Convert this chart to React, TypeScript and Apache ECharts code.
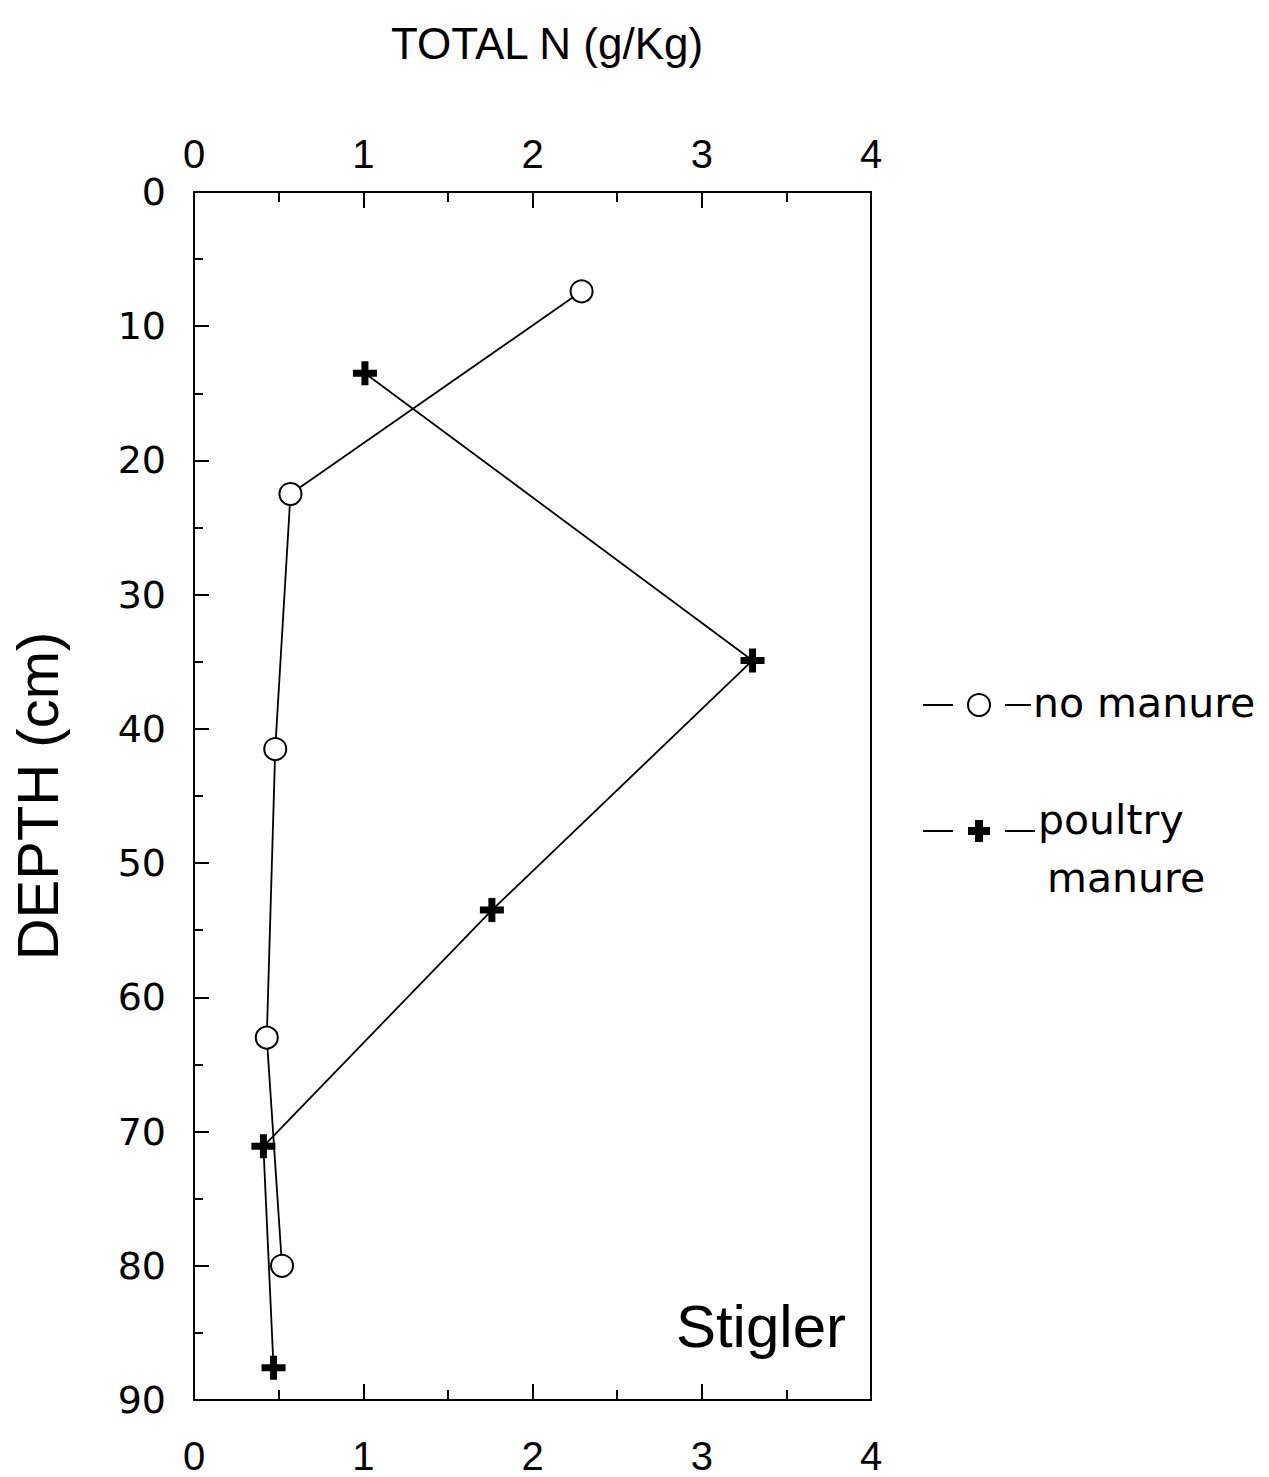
import React, { useEffect, useRef } from "react";
import * as echarts from "echarts";

const xTicks = [0, 1, 2, 3, 4];
const yTicks = [0, 10, 20, 30, 40, 50, 60, 70, 80, 90];

const noManureN = [2.29, 0.57, 0.48, 0.43, 0.52];
const noManureDepth = [7.4, 22.5, 41.5, 63.0, 80.0];

const poultryN = [1.01, 3.3, 1.76, 0.41, 0.47];
const poultryDepth = [13.5, 34.9, 53.5, 71.1, 87.6];

const seriesNames = ["no manure", "poultry manure"];

const PLUS = "path://M8.5,0H15.5V8.5H24V15.5H15.5V24H8.5V15.5H0V8.5H8.5Z";

export default function App() {
  const ref = useRef<HTMLDivElement>(null);
  useEffect(() => {
    document.body.style.margin = "0";
    const chart = echarts.init(ref.current!, null, { renderer: "svg" });
    const black = "#000";
    const xAxisBase = {
      type: "value",
      min: xTicks[0],
      max: xTicks[xTicks.length - 1],
      interval: 1,
      axisLine: { show: true, onZero: false, lineStyle: { color: black, width: 2 } },
      axisTick: { show: true, inside: true, length: 16, lineStyle: { color: black, width: 2 } },
      minorTick: { show: true, splitNumber: 2, length: 10, lineStyle: { color: black, width: 2 } },
      splitLine: { show: false },
      axisLabel: {
        color: black,
        fontFamily: "Liberation Sans",
        fontSize: 40,
      },
    };
    const legendLine = (x1: number, x2: number, y: number) => ({
      type: "line",
      shape: { x1, y1: y, x2, y2: y },
      style: { stroke: black, lineWidth: 2 },
    });
    chart.setOption({
      animation: false,
      backgroundColor: "#fff",
      title: {
        text: "TOTAL N (g/Kg)",
        left: 386,
        top: 16,
        textStyle: { color: black, fontFamily: "Liberation Sans", fontSize: 44, fontWeight: "normal" },
      },
      grid: {
        left: 194,
        top: 192,
        right: 398,
        bottom: 77,
        show: true,
        borderColor: black,
        borderWidth: 2,
        backgroundColor: "transparent",
      },
      xAxis: [
        { ...xAxisBase, position: "bottom", axisLabel: { ...xAxisBase.axisLabel, margin: 36 } },
        { ...xAxisBase, position: "top", axisLabel: { ...xAxisBase.axisLabel, margin: 18 } },
      ],
      yAxis: {
        type: "value",
        inverse: true,
        min: yTicks[0],
        max: yTicks[yTicks.length - 1],
        interval: 10,
        name: "DEPTH (cm)",
        nameLocation: "middle",
        nameGap: 128,
        nameRotate: 90,
        nameTextStyle: { color: black, fontFamily: "Liberation Sans", fontSize: 58 },
        axisLine: { show: true, onZero: false, lineStyle: { color: black, width: 2 } },
        axisTick: { show: true, inside: true, length: 15, lineStyle: { color: black, width: 2 } },
        minorTick: { show: true, splitNumber: 2, length: 9, lineStyle: { color: black, width: 2 } },
        splitLine: { show: false },
        axisLabel: {
          color: black,
          fontFamily: "DejaVu Sans",
          fontSize: 38,
          margin: 28,
          padding: [8, 0, 0, 0],
        },
      },
      series: [
        {
          name: seriesNames[0],
          type: "line",
          xAxisIndex: 0,
          data: noManureN.map((v, i) => [v, noManureDepth[i]]),
          symbol: "emptyCircle",
          symbolSize: 22,
          lineStyle: { color: black, width: 1.8 },
          itemStyle: { color: black, borderColor: black, borderWidth: 2 },
          z: 3,
        },
        {
          name: seriesNames[1],
          type: "line",
          xAxisIndex: 0,
          data: poultryN.map((v, i) => [v, poultryDepth[i]]),
          symbol: PLUS,
          symbolSize: 24,
          lineStyle: { color: black, width: 1.8 },
          itemStyle: { color: black, borderWidth: 0 },
          z: 3,
        },
      ],
      graphic: [
        {
          type: "text",
          right: 1269 - 846,
          top: 1296,
          style: { text: "Stigler", fill: black, font: "60px 'Liberation Sans'" },
        },
        legendLine(923, 953, 705),
        {
          type: "circle",
          shape: { cx: 979, cy: 705, r: 11 },
          style: { fill: "#fff", stroke: black, lineWidth: 2 },
        },
        legendLine(1005, 1031, 705),
        {
          type: "text",
          x: 1033,
          y: 703,
          style: {
            text: seriesNames[0],
            fill: black,
            font: "41px 'DejaVu Sans'",
            textVerticalAlign: "middle",
          },
        },
        legendLine(923, 953, 831),
        {
          type: "polygon",
          shape: {
            points: [
              [975, 820], [983, 820], [983, 827], [990, 827], [990, 835], [983, 835],
              [983, 842], [975, 842], [975, 835], [968, 835], [968, 827], [975, 827],
            ],
          },
          style: { fill: black },
        },
        legendLine(1005, 1035, 831),
        {
          type: "text",
          x: 1038,
          y: 820,
          style: {
            text: "poultry",
            fill: black,
            font: "41px 'DejaVu Sans'",
            textVerticalAlign: "middle",
          },
        },
        {
          type: "text",
          x: 1047,
          y: 878,
          style: {
            text: "manure",
            fill: black,
            font: "41px 'DejaVu Sans'",
            textVerticalAlign: "middle",
          },
        },
      ],
    });
    return () => chart.dispose();
  }, []);
  return <div ref={ref} style={{ width: 1269, height: 1477 }} />;
}
